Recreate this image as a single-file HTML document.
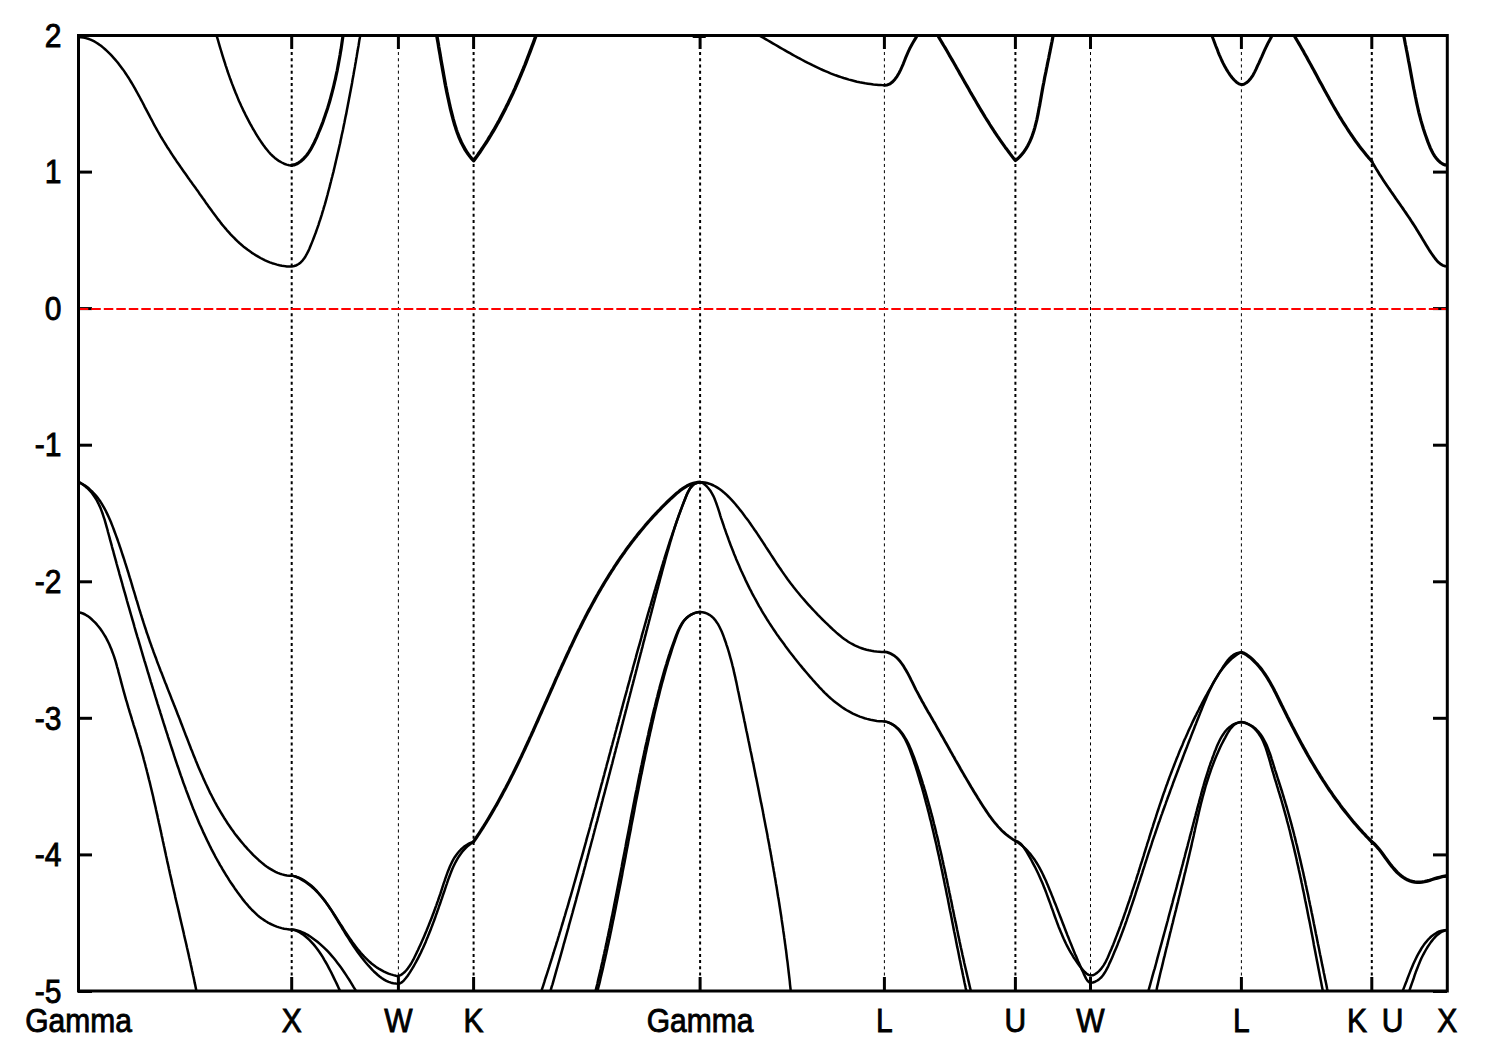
<!DOCTYPE html>
<html><head><meta charset="utf-8"><style>
html,body{margin:0;padding:0;background:#fff;}
svg{display:block;}
text{font-family:"Liberation Sans",sans-serif;font-size:30px;fill:#000;stroke:#000;stroke-width:0.8px;}
</style></head><body>
<svg width="1500" height="1050" viewBox="0 0 1500 1050">
<rect width="1500" height="1050" fill="#fff"/>
<defs><clipPath id="c"><rect x="78.5" y="35.5" width="1368.8" height="955.5"/></clipPath></defs>
<line x1="291.7" y1="52" x2="291.7" y2="977" stroke="#000" stroke-width="2.0" stroke-dasharray="3 3.22"/>
<line x1="398.4" y1="52" x2="398.4" y2="977" stroke="#000" stroke-width="1.0" stroke-dasharray="3 3.22"/>
<line x1="473.6" y1="52" x2="473.6" y2="977" stroke="#000" stroke-width="2.0" stroke-dasharray="3 3.22"/>
<line x1="700.1" y1="52" x2="700.1" y2="977" stroke="#000" stroke-width="2.0" stroke-dasharray="3 3.22"/>
<line x1="884.4" y1="52" x2="884.4" y2="977" stroke="#000" stroke-width="1.0" stroke-dasharray="3 3.22"/>
<line x1="1015.4" y1="52" x2="1015.4" y2="977" stroke="#000" stroke-width="2.0" stroke-dasharray="3 3.22"/>
<line x1="1090.5" y1="52" x2="1090.5" y2="977" stroke="#000" stroke-width="1.0" stroke-dasharray="3 3.22"/>
<line x1="1241.4" y1="52" x2="1241.4" y2="977" stroke="#000" stroke-width="1.0" stroke-dasharray="3 3.22"/>
<line x1="1371.8" y1="52" x2="1371.8" y2="977" stroke="#000" stroke-width="2.0" stroke-dasharray="3 3.22"/>
<g clip-path="url(#c)" fill="none" stroke="#000" stroke-width="2.50" stroke-linejoin="round" stroke-linecap="round">
<path d="M78.5,37.2 81.0,37.3 83.4,37.6 85.8,38.1 88.2,38.8 90.5,39.6 92.7,40.6 94.8,41.7 96.9,43.0 99.0,44.4 101.0,45.8 102.9,47.4 104.8,49.0 106.6,50.7 108.4,52.4 110.2,54.1 111.9,55.9 113.6,57.8 115.2,59.6 116.8,61.5 118.4,63.4 119.9,65.4 121.4,67.4 122.9,69.4 124.3,71.4 125.7,73.5 127.1,75.6 128.5,77.7 129.8,79.8 131.1,82.0 132.4,84.2 133.7,86.4 135.0,88.6 136.2,90.8 137.4,93.0 138.7,95.3 139.9,97.5 141.1,99.8 142.3,102.0 143.5,104.3 144.6,106.6 145.8,108.9 147.0,111.1 148.2,113.4 149.4,115.7 150.6,118.0 151.8,120.2 153.0,122.5 154.2,124.8 155.4,127.0 156.6,129.2 157.9,131.5 159.2,133.7 160.4,135.9 161.7,138.0 163.0,140.2 164.4,142.4 165.7,144.5 167.0,146.7 168.4,148.8 169.8,150.9 171.1,153.0 172.5,155.1 173.9,157.2 175.3,159.3 176.7,161.4 178.2,163.5 179.6,165.5 181.0,167.6 182.5,169.7 183.9,171.7 185.4,173.8 186.8,175.8 188.3,177.9 189.7,179.9 191.2,181.9 192.6,184.0 194.1,186.0 195.6,188.1 197.0,190.1 198.5,192.1 199.9,194.2 201.4,196.2 202.8,198.3 204.3,200.3 205.7,202.4 207.2,204.4 208.6,206.5 210.1,208.5 211.6,210.6 213.0,212.6 214.5,214.6 216.0,216.6 217.5,218.6 219.1,220.6 220.6,222.6 222.2,224.6 223.8,226.5 225.4,228.4 227.0,230.3 228.7,232.2 230.4,234.1 232.1,235.9 233.9,237.7 235.7,239.5 237.6,241.3 239.4,243.0 241.4,244.7 243.3,246.4 245.4,248.0 247.4,249.6 249.5,251.1 251.6,252.6 253.8,254.0 256.0,255.4 258.2,256.7 260.5,258.0 262.8,259.2 265.1,260.3 267.4,261.3 269.8,262.3 272.2,263.2 274.6,263.9 277.0,264.6 279.4,265.2 281.9,265.7 284.3,266.1 286.8,266.4 289.2,266.5 291.7,266.6L291.7,266.4 294.2,266.0 296.6,265.2 298.7,264.0 300.7,262.4 302.5,260.6 304.1,258.5 305.6,256.2 307.0,253.7 308.3,251.2 309.5,248.5 310.6,245.8 311.7,243.1 312.8,240.4 313.8,237.8 314.8,235.1 315.8,232.5 316.7,229.9 317.6,227.4 318.5,224.8 319.3,222.2 320.2,219.7 321.0,217.2 321.8,214.6 322.5,212.1 323.3,209.6 324.0,207.1 324.8,204.6 325.5,202.1 326.2,199.6 326.9,197.0 327.6,194.5 328.2,192.0 328.9,189.5 329.6,186.9 330.2,184.4 330.9,181.8 331.5,179.3 332.2,176.7 332.8,174.2 333.5,171.6 334.1,169.0 334.7,166.5 335.3,163.9 335.9,161.3 336.5,158.7 337.1,156.1 337.7,153.5 338.3,151.0 338.9,148.4 339.5,145.8 340.1,143.2 340.6,140.5 341.2,137.9 341.7,135.3 342.3,132.7 342.9,130.1 343.4,127.5 343.9,124.9 344.5,122.2 345.0,119.6 345.5,117.0 346.1,114.4 346.6,111.7 347.1,109.1 347.6,106.5 348.1,103.8 348.6,101.2 349.1,98.6 349.6,95.9 350.1,93.3 350.6,90.7 351.1,88.0 351.6,85.4 352.1,82.7 352.5,80.1 353.0,77.5 353.5,74.8 353.9,72.2 354.4,69.6 354.9,66.9 355.3,64.3 355.8,61.7 356.2,59.0 356.7,56.4 357.1,53.8 357.6,51.1 358.0,48.5 358.5,45.9 358.9,43.3 359.3,40.6 359.8,38.0 360.2,35.4 360.7,32.8 361.1,30.2 361.5,27.6 361.9,25.0"/>
<path d="M213.8,25.6 214.6,28.2 215.3,30.9 216.1,33.6 216.8,36.3 217.6,38.9 218.4,41.6 219.1,44.2 219.9,46.9 220.7,49.5 221.5,52.2 222.3,54.8 223.1,57.4 223.9,60.0 224.8,62.7 225.6,65.3 226.5,67.9 227.3,70.5 228.2,73.1 229.1,75.6 230.0,78.2 231.0,80.8 231.9,83.4 232.9,85.9 233.9,88.5 234.9,91.0 235.9,93.6 237.0,96.1 238.0,98.6 239.1,101.2 240.3,103.7 241.4,106.2 242.6,108.7 243.7,111.2 245.0,113.7 246.2,116.2 247.5,118.6 248.8,121.1 250.1,123.6 251.5,126.0 252.8,128.5 254.3,130.9 255.7,133.3 257.2,135.8 258.7,138.2 260.3,140.6 261.9,143.0 263.5,145.3 265.2,147.6 267.0,149.8 268.8,152.0 270.7,154.1 272.7,156.0 274.8,157.9 277.0,159.6 279.3,161.2 281.7,162.5 284.1,163.7 286.6,164.6 289.2,165.2 291.7,165.4"/>
<path stroke-width="3.20" d="M291.7,165.2 294.0,164.9 296.4,164.0 298.6,162.8 300.8,161.2 303.0,159.3 305.0,157.2 306.9,155.0 308.6,152.6 310.2,150.2 311.6,147.7 313.0,145.1 314.3,142.5 315.5,139.9 316.7,137.3 317.8,134.6 318.9,132.0 320.0,129.4 321.1,126.7 322.1,124.1 323.1,121.5 324.0,118.8 324.9,116.2 325.8,113.6 326.7,110.9 327.6,108.3 328.4,105.6 329.2,103.0 330.0,100.3 330.7,97.7 331.4,95.0 332.1,92.4 332.8,89.7 333.5,87.0 334.1,84.4 334.7,81.7 335.4,79.0 335.9,76.4 336.5,73.7 337.1,71.0 337.6,68.3 338.1,65.6 338.6,62.9 339.1,60.2 339.6,57.5 340.1,54.8 340.5,52.1 341.0,49.4 341.4,46.7 341.8,44.0 342.2,41.2 342.6,38.5 343.0,35.8 343.4,33.0 343.8,30.3 344.2,27.5 344.6,24.8"/>
<path stroke-width="3.50" d="M434.7,24.7 435.2,27.4 435.8,30.2 436.3,32.9 436.8,35.7 437.3,38.5 437.8,41.2 438.3,44.0 438.7,46.8 439.2,49.6 439.7,52.4 440.2,55.1 440.6,57.9 441.1,60.7 441.6,63.5 442.1,66.3 442.6,69.1 443.1,71.9 443.6,74.7 444.1,77.5 444.6,80.3 445.1,83.1 445.6,85.8 446.2,88.6 446.7,91.4 447.3,94.2 447.9,97.0 448.5,99.7 449.1,102.5 449.7,105.2 450.3,108.0 451.0,110.7 451.7,113.5 452.4,116.2 453.1,118.9 453.9,121.7 454.6,124.4 455.5,127.0 456.3,129.7 457.2,132.3 458.2,134.9 459.2,137.5 460.3,140.0 461.4,142.5 462.7,145.0 464.0,147.4 465.3,149.8 466.8,152.1 468.3,154.3 470.0,156.5 471.7,158.6 473.6,160.7L473.6,160.7 475.3,158.4 476.9,156.2 478.5,153.9 480.2,151.6 481.7,149.3 483.3,146.9 484.8,144.6 486.4,142.2 487.9,139.9 489.3,137.5 490.8,135.1 492.2,132.7 493.7,130.3 495.1,127.9 496.5,125.4 497.8,123.0 499.2,120.6 500.5,118.1 501.8,115.6 503.1,113.1 504.4,110.6 505.7,108.1 506.9,105.6 508.2,103.1 509.4,100.6 510.6,98.1 511.8,95.5 513.0,93.0 514.1,90.4 515.3,87.9 516.4,85.3 517.5,82.7 518.6,80.2 519.7,77.6 520.8,75.0 521.9,72.4 523.0,69.8 524.0,67.2 525.1,64.6 526.1,62.0 527.1,59.3 528.1,56.7 529.1,54.1 530.1,51.5 531.1,48.8 532.1,46.2 533.1,43.6 534.1,40.9 535.0,38.3 536.0,35.7 536.9,33.0 537.8,30.4 538.8,27.8 539.7,25.1"/>
<path stroke-width="2.00" d="M693.5,37.0 695.1,37.0 696.8,37.0 698.4,37.0 700.1,37.0 701.7,37.0 703.4,37.0 705.0,37.0"/>
<path d="M751.3,30.8 753.7,32.2 756.0,33.5 758.4,34.9 760.8,36.3 763.2,37.7 765.6,39.1 768.0,40.5 770.4,41.9 772.8,43.3 775.3,44.8 777.7,46.2 780.1,47.6 782.6,49.0 785.0,50.4 787.5,51.8 790.0,53.2 792.4,54.6 794.9,56.0 797.4,57.4 799.9,58.7 802.4,60.0 804.9,61.4 807.4,62.7 810.0,63.9 812.5,65.2 815.0,66.4 817.6,67.6 820.2,68.8 822.7,70.0 825.3,71.1 827.9,72.2 830.5,73.3 833.1,74.3 835.7,75.3 838.3,76.2 841.0,77.1 843.6,78.0 846.3,78.8 849.0,79.6 851.6,80.3 854.3,81.0 857.0,81.7 859.7,82.3 862.4,82.8 865.2,83.3 867.9,83.7 870.6,84.1 873.4,84.5 876.1,84.7 878.9,84.9 881.6,85.1 884.4,85.2"/>
<path stroke-width="3.00" d="M884.4,85.2 887.3,84.9 890.1,83.8 892.7,81.8 895.0,79.2 897.1,76.3 898.9,73.2 900.5,70.1 901.9,67.0 903.3,63.8 904.5,60.7 905.7,57.6 907.0,54.6 908.3,51.7 909.6,48.8 911.1,46.0 912.6,43.2 914.3,40.4 916.0,37.6 917.8,34.8 919.6,32.1 921.4,29.3 923.1,26.6"/>
<path stroke-width="3.20" d="M932.2,26.6 933.6,29.0 935.1,31.3 936.6,33.7 938.0,36.0 939.5,38.4 940.9,40.8 942.3,43.1 943.7,45.5 945.2,47.9 946.6,50.3 948.0,52.7 949.3,55.1 950.7,57.5 952.1,59.9 953.5,62.3 954.9,64.7 956.2,67.1 957.6,69.5 959.0,71.9 960.3,74.4 961.7,76.8 963.1,79.2 964.4,81.6 965.8,84.0 967.2,86.4 968.6,88.8 969.9,91.2 971.3,93.6 972.7,96.0 974.1,98.4 975.5,100.8 976.9,103.2 978.3,105.6 979.7,108.0 981.1,110.4 982.5,112.7 984.0,115.1 985.4,117.5 986.9,119.8 988.4,122.2 989.8,124.5 991.3,126.8 992.8,129.2 994.3,131.5 995.9,133.8 997.4,136.1 999.0,138.4 1000.5,140.6 1002.1,142.9 1003.7,145.2 1005.3,147.4 1007.0,149.6 1008.6,151.8 1010.3,154.1 1012.0,156.3 1013.7,158.4 1015.4,160.6L1015.4,160.6 1017.6,158.8 1019.6,156.9 1021.4,154.9 1023.2,152.8 1024.7,150.6 1026.2,148.4 1027.6,146.0 1028.8,143.6 1030.0,141.2 1031.1,138.6 1032.1,136.1 1033.0,133.4 1033.9,130.8 1034.7,128.1 1035.4,125.4 1036.1,122.6 1036.8,119.8 1037.4,117.0 1038.0,114.2 1038.5,111.3 1039.0,108.5 1039.6,105.6 1040.1,102.8 1040.6,99.9 1041.1,97.1 1041.6,94.2 1042.1,91.4 1042.6,88.6 1043.1,85.8 1043.7,83.0 1044.2,80.2 1044.7,77.4 1045.3,74.7 1045.9,71.9 1046.4,69.1 1047.0,66.4 1047.5,63.6 1048.1,60.9 1048.7,58.1 1049.2,55.4 1049.8,52.7 1050.3,49.9 1050.9,47.2 1051.4,44.4 1052.0,41.6 1052.5,38.9 1053.0,36.1 1053.5,33.3 1054.1,30.6 1054.6,27.8 1055.0,25.0"/>
<path stroke-width="3.00" d="M1207.2,25.0 1208.5,27.9 1209.9,30.8 1211.1,33.8 1212.3,36.7 1213.5,39.7 1214.6,42.7 1215.7,45.7 1216.9,48.6 1218.0,51.6 1219.2,54.6 1220.5,57.5 1221.8,60.5 1223.2,63.4 1224.7,66.3 1226.3,69.1 1228.1,72.0 1230.0,74.8 1232.0,77.5 1234.2,80.0 1236.5,82.2 1238.9,83.8 1241.4,84.7L1241.4,84.7 1243.9,84.2 1246.4,82.8 1248.7,80.8 1250.9,78.2 1252.9,75.3 1254.6,72.1 1256.2,68.9 1257.6,65.7 1259.1,62.6 1260.4,59.6 1261.8,56.6 1263.1,53.6 1264.4,50.7 1265.7,47.8 1267.1,45.0 1268.5,42.2 1270.0,39.5 1271.5,36.8 1273.2,34.1 1275.0,31.4 1276.9,28.8 1278.9,26.2"/>
<path stroke-width="3.20" d="M1288.7,26.8 1290.2,29.2 1291.6,31.5 1293.1,33.9 1294.5,36.2 1296.0,38.6 1297.4,41.0 1298.8,43.4 1300.2,45.8 1301.6,48.2 1303.0,50.6 1304.3,53.1 1305.7,55.5 1307.1,57.9 1308.4,60.4 1309.7,62.8 1311.1,65.2 1312.4,67.7 1313.7,70.1 1315.1,72.6 1316.4,75.0 1317.7,77.5 1319.0,79.9 1320.3,82.4 1321.7,84.8 1323.0,87.3 1324.3,89.7 1325.7,92.2 1327.0,94.6 1328.4,97.0 1329.7,99.5 1331.1,101.9 1332.4,104.3 1333.8,106.7 1335.2,109.1 1336.6,111.5 1338.0,113.9 1339.4,116.3 1340.9,118.7 1342.3,121.0 1343.8,123.4 1345.3,125.7 1346.8,128.0 1348.3,130.4 1349.8,132.7 1351.4,135.0 1352.9,137.2 1354.5,139.5 1356.1,141.8 1357.8,144.0 1359.4,146.2 1361.1,148.4 1362.8,150.6 1364.6,152.8 1366.3,154.9 1368.1,157.1 1370.0,159.2 1371.8,161.3"/>
<path stroke-width="2.80" d="M1371.8,161.3 1373.0,163.5 1374.3,165.7 1375.6,167.9 1376.9,170.1 1378.3,172.3 1379.6,174.4 1381.0,176.6 1382.4,178.7 1383.8,180.9 1385.2,183.0 1386.7,185.2 1388.1,187.3 1389.6,189.4 1391.0,191.5 1392.5,193.6 1394.0,195.8 1395.4,197.9 1396.9,200.0 1398.4,202.1 1399.9,204.2 1401.3,206.3 1402.8,208.4 1404.2,210.5 1405.7,212.6 1407.1,214.7 1408.5,216.8 1410.0,218.9 1411.3,221.0 1412.7,223.1 1414.1,225.2 1415.4,227.3 1416.7,229.4 1418.0,231.5 1419.3,233.7 1420.6,235.8 1421.9,237.9 1423.1,240.1 1424.5,242.3 1425.8,244.5 1427.2,246.8 1428.6,249.1 1430.1,251.4 1431.7,253.7 1433.4,256.1 1435.1,258.5 1436.9,260.7 1438.9,262.7 1440.9,264.3 1443.0,265.5 1445.1,266.2 1447.3,266.4"/>
<path stroke-width="3.20" d="M1401.7,25.2 1402.2,28.0 1402.8,30.7 1403.3,33.4 1403.8,36.2 1404.4,38.9 1404.9,41.7 1405.4,44.5 1406.0,47.2 1406.5,50.0 1407.1,52.8 1407.6,55.6 1408.1,58.3 1408.6,61.1 1409.2,63.9 1409.7,66.6 1410.2,69.4 1410.7,72.1 1411.2,74.9 1411.7,77.6 1412.2,80.3 1412.7,83.0 1413.2,85.7 1413.7,88.4 1414.3,91.0 1414.8,93.7 1415.3,96.3 1415.9,99.0 1416.4,101.7 1417.0,104.3 1417.6,107.0 1418.2,109.7 1418.8,112.3 1419.5,115.0 1420.2,117.7 1420.9,120.4 1421.7,123.1 1422.5,125.8 1423.3,128.5 1424.2,131.3 1425.1,134.0 1426.1,136.8 1427.1,139.6 1428.1,142.4 1429.3,145.3 1430.4,148.1 1431.7,150.8 1433.1,153.5 1434.7,156.1 1436.5,158.5 1438.4,160.6 1440.5,162.5 1442.7,164.0 1445.0,164.9 1447.3,165.2"/>
<path d="M78.5,482.1 80.7,483.0 82.9,484.3 85.0,485.6 87.1,487.1 89.0,488.6 90.8,490.3 92.6,492.0 94.3,493.8 95.9,495.6 97.5,497.6 98.9,499.5 100.4,501.6 101.7,503.7 103.0,505.9 104.3,508.1 105.5,510.3 106.6,512.6 107.7,514.9 108.8,517.3 109.8,519.6 110.9,522.0 111.8,524.4 112.8,526.9 113.7,529.3 114.6,531.7 115.5,534.1 116.4,536.6 117.3,539.0 118.1,541.4 119.0,543.9 119.8,546.3 120.6,548.7 121.4,551.1 122.2,553.6 123.0,556.0 123.8,558.4 124.6,560.8 125.3,563.2 126.1,565.6 126.9,568.1 127.6,570.5 128.4,572.9 129.1,575.3 129.8,577.7 130.6,580.1 131.3,582.5 132.0,584.9 132.7,587.3 133.4,589.7 134.2,592.1 134.9,594.5 135.6,596.9 136.3,599.3 137.1,601.7 137.8,604.1 138.5,606.5 139.2,608.9 140.0,611.3 140.7,613.7 141.5,616.1 142.2,618.5 143.0,620.8 143.7,623.2 144.5,625.6 145.3,628.0 146.1,630.4 146.8,632.8 147.7,635.1 148.5,637.5 149.3,639.9 150.1,642.3 151.0,644.6 151.8,647.0 152.7,649.4 153.5,651.7 154.4,654.1 155.3,656.5 156.2,658.8 157.0,661.2 157.9,663.6 158.8,665.9 159.7,668.3 160.6,670.7 161.6,673.0 162.5,675.4 163.4,677.7 164.3,680.1 165.2,682.5 166.2,684.8 167.1,687.2 168.0,689.6 168.9,691.9 169.9,694.3 170.8,696.6 171.7,699.0 172.7,701.4 173.6,703.7 174.5,706.1 175.5,708.5 176.4,710.8 177.3,713.2 178.2,715.6 179.2,717.9 180.1,720.3 181.0,722.7 181.9,725.0 182.8,727.4 183.7,729.8 184.6,732.1 185.5,734.5 186.5,736.9 187.4,739.2 188.3,741.6 189.2,744.0 190.1,746.3 191.0,748.7 192.0,751.0 192.9,753.4 193.8,755.7 194.8,758.1 195.7,760.4 196.7,762.7 197.6,765.1 198.6,767.4 199.6,769.7 200.6,772.0 201.6,774.3 202.6,776.6 203.6,778.9 204.7,781.2 205.7,783.5 206.8,785.8 207.9,788.1 208.9,790.3 210.0,792.6 211.2,794.8 212.3,797.0 213.5,799.3 214.6,801.5 215.8,803.7 217.0,805.9 218.3,808.1 219.5,810.2 220.8,812.4 222.1,814.5 223.4,816.7 224.7,818.8 226.1,820.9 227.4,823.0 228.8,825.1 230.3,827.2 231.7,829.3 233.2,831.3 234.7,833.4 236.2,835.4 237.8,837.4 239.4,839.4 241.0,841.4 242.6,843.3 244.3,845.3 246.0,847.2 247.7,849.1 249.5,851.0 251.3,852.9 253.1,854.8 255.0,856.6 256.9,858.4 258.8,860.2 260.8,861.9 262.8,863.6 264.8,865.2 266.9,866.7 269.0,868.1 271.1,869.4 273.3,870.7 275.5,871.8 277.7,872.8 279.9,873.7 282.2,874.4 284.5,875.0 286.9,875.4 289.3,875.7 291.7,875.8L291.7,875.6 294.1,876.1 296.5,877.0 298.8,878.0 301.1,879.3 303.3,880.6 305.5,882.0 307.5,883.4 309.5,885.0 311.4,886.5 313.3,888.2 315.1,889.9 316.8,891.6 318.6,893.5 320.2,895.3 321.8,897.2 323.4,899.2 325.0,901.1 326.5,903.2 328.0,905.2 329.4,907.3 330.9,909.4 332.3,911.6 333.7,913.7 335.2,915.9 336.6,918.1 338.0,920.3 339.4,922.6 340.8,924.8 342.3,927.0 343.7,929.3 345.1,931.5 346.6,933.7 348.1,935.9 349.6,938.1 351.1,940.3 352.6,942.5 354.2,944.6 355.8,946.7 357.4,948.8 359.1,950.8 360.7,952.8 362.4,954.7 364.2,956.6 366.0,958.4 367.8,960.1 369.6,961.8 371.5,963.5 373.5,965.0 375.5,966.5 377.5,967.9 379.6,969.2 381.8,970.4 384.0,971.6 386.2,972.6 388.5,973.6 390.9,974.4 393.4,975.1 395.9,975.7 398.4,976.2L398.4,976.2 400.5,975.2 402.5,973.9 404.4,972.3 406.1,970.5 407.7,968.6 409.2,966.5 410.7,964.3 412.0,962.0 413.3,959.7 414.5,957.3 415.7,954.8 416.8,952.4 418.0,950.0 419.1,947.6 420.2,945.2 421.2,942.9 422.3,940.5 423.3,938.2 424.3,935.9 425.3,933.5 426.3,931.2 427.2,928.9 428.2,926.6 429.1,924.3 430.0,922.0 431.0,919.6 431.9,917.3 432.7,915.0 433.6,912.7 434.5,910.3 435.3,908.0 436.2,905.6 437.0,903.3 437.9,900.9 438.7,898.5 439.5,896.1 440.4,893.7 441.2,891.2 442.0,888.7 442.8,886.2 443.6,883.7 444.5,881.2 445.3,878.7 446.2,876.2 447.1,873.7 448.0,871.2 449.0,868.7 450.0,866.3 451.1,863.9 452.2,861.6 453.4,859.4 454.7,857.2 456.1,855.2 457.6,853.2 459.2,851.3 460.9,849.5 462.7,847.9 464.6,846.3 466.6,845.0 468.8,843.7 471.1,842.6 473.6,841.7"/>
<path d="M291.7,875.6 294.1,876.1 296.4,876.8 298.8,877.7 301.0,878.7 303.2,879.9 305.4,881.3 307.4,882.7 309.5,884.2 311.4,885.8 313.3,887.5 315.2,889.3 317.0,891.2 318.7,893.2 320.4,895.2 322.1,897.2 323.7,899.3 325.3,901.5 326.9,903.7 328.4,905.9 329.9,908.2 331.4,910.4 332.8,912.7 334.2,915.0 335.6,917.3 337.0,919.5 338.3,921.8 339.7,924.0 341.0,926.2 342.3,928.5 343.7,930.6 345.0,932.8 346.3,935.0 347.7,937.1 349.0,939.2 350.3,941.3 351.7,943.4 353.1,945.5 354.5,947.6 355.9,949.6 357.4,951.7 358.9,953.7 360.4,955.7 361.9,957.7 363.5,959.7 365.1,961.7 366.8,963.7 368.5,965.7 370.3,967.6 372.1,969.6 373.9,971.5 375.9,973.3 377.8,975.0 379.9,976.7 382.0,978.2 384.1,979.6 386.3,980.8 388.6,981.8 391.0,982.7 393.4,983.2 395.9,983.6 398.4,983.7L398.4,983.7 400.3,983.2 402.1,982.1 404.0,980.3 405.7,978.3 407.5,976.0 409.1,973.6 410.7,971.1 412.2,968.7 413.6,966.3 414.9,964.0 416.2,961.7 417.4,959.4 418.6,957.1 419.7,954.9 420.8,952.7 421.8,950.4 422.9,948.2 423.9,945.9 424.9,943.7 425.9,941.4 426.8,939.1 427.8,936.8 428.7,934.4 429.7,932.1 430.6,929.7 431.5,927.4 432.4,925.0 433.3,922.6 434.2,920.2 435.1,917.8 435.9,915.4 436.8,913.0 437.6,910.6 438.5,908.2 439.3,905.7 440.2,903.3 441.0,900.8 441.9,898.4 442.7,895.9 443.5,893.5 444.4,891.0 445.2,888.6 446.0,886.1 446.9,883.6 447.7,881.2 448.6,878.7 449.5,876.3 450.4,873.9 451.3,871.5 452.3,869.1 453.3,866.8 454.4,864.5 455.5,862.3 456.7,860.1 458.0,857.9 459.4,855.8 460.8,853.8 462.3,851.8 463.9,849.9 465.6,848.1 467.4,846.4 469.4,844.7 471.4,843.2 473.6,841.7"/>
<path stroke-width="3.30" d="M473.6,841.7 475.0,839.6 476.4,837.5 477.8,835.4 479.2,833.3 480.6,831.2 481.9,829.1 483.3,827.0 484.6,824.8 486.0,822.7 487.3,820.5 488.6,818.4 489.9,816.2 491.1,814.1 492.4,811.9 493.7,809.7 494.9,807.5 496.2,805.4 497.4,803.2 498.6,801.0 499.8,798.8 501.0,796.6 502.2,794.4 503.4,792.1 504.6,789.9 505.8,787.7 506.9,785.5 508.1,783.2 509.3,781.0 510.4,778.8 511.5,776.5 512.7,774.3 513.8,772.0 514.9,769.8 516.0,767.5 517.1,765.2 518.2,763.0 519.3,760.7 520.4,758.4 521.5,756.2 522.5,753.9 523.6,751.6 524.7,749.3 525.7,747.0 526.8,744.7 527.8,742.5 528.9,740.2 529.9,737.9 531.0,735.6 532.0,733.3 533.1,731.0 534.1,728.7 535.1,726.4 536.1,724.1 537.2,721.8 538.2,719.5 539.2,717.2 540.2,714.9 541.3,712.5 542.3,710.2 543.3,707.9 544.3,705.6 545.3,703.3 546.4,701.0 547.4,698.7 548.4,696.4 549.4,694.1 550.4,691.8 551.4,689.5 552.5,687.2 553.5,684.9 554.5,682.6 555.5,680.2 556.5,677.9 557.6,675.6 558.6,673.3 559.6,671.0 560.7,668.7 561.7,666.4 562.7,664.2 563.8,661.9 564.8,659.6 565.9,657.3 566.9,655.0 568.0,652.7 569.1,650.4 570.1,648.1 571.2,645.9 572.3,643.6 573.4,641.3 574.4,639.1 575.5,636.8 576.6,634.5 577.7,632.3 578.8,630.0 580.0,627.8 581.1,625.5 582.2,623.3 583.3,621.0 584.5,618.8 585.6,616.6 586.8,614.3 587.9,612.1 589.1,609.9 590.3,607.7 591.5,605.5 592.7,603.3 593.9,601.1 595.1,598.9 596.3,596.7 597.6,594.5 598.8,592.3 600.1,590.2 601.3,588.0 602.6,585.8 603.9,583.7 605.2,581.5 606.5,579.4 607.8,577.3 609.1,575.1 610.5,573.0 611.8,570.9 613.2,568.8 614.5,566.7 615.9,564.6 617.3,562.5 618.7,560.4 620.1,558.3 621.6,556.3 623.0,554.2 624.5,552.2 625.9,550.1 627.4,548.1 628.9,546.1 630.4,544.0 631.9,542.0 633.5,540.0 635.0,538.0 636.6,536.1 638.1,534.1 639.7,532.1 641.3,530.2 643.0,528.2 644.6,526.3 646.2,524.3 647.9,522.4 649.6,520.5 651.3,518.6 653.0,516.7 654.7,514.9 656.5,513.0 658.2,511.1 660.0,509.3 661.8,507.4 663.6,505.6 665.4,503.8 667.2,502.0 669.1,500.2 671.0,498.4 672.9,496.7 674.8,495.0 676.7,493.3 678.7,491.7 680.6,490.1 682.7,488.7 684.7,487.4 686.8,486.1 688.9,485.1 691.1,484.1 693.3,483.4 695.5,482.8 697.8,482.4 700.1,482.2"/>
<path d="M700.1,482.2 702.4,482.3 704.7,482.5 707.0,483.0 709.2,483.7 711.4,484.5 713.6,485.5 715.7,486.6 717.8,487.9 719.9,489.3 721.9,490.8 723.9,492.4 725.9,494.2 727.8,496.0 729.7,497.9 731.6,499.9 733.4,501.9 735.3,504.0 737.0,506.1 738.8,508.2 740.5,510.4 742.2,512.5 743.8,514.7 745.4,516.9 747.0,519.0 748.6,521.1 750.1,523.3 751.6,525.4 753.1,527.6 754.5,529.7 756.0,531.8 757.4,533.9 758.8,536.0 760.2,538.2 761.6,540.3 763.0,542.4 764.4,544.5 765.7,546.6 767.1,548.7 768.4,550.7 769.8,552.8 771.1,554.9 772.5,557.0 773.8,559.0 775.2,561.1 776.5,563.2 777.9,565.2 779.3,567.3 780.7,569.3 782.1,571.4 783.5,573.4 784.9,575.4 786.4,577.5 787.8,579.5 789.3,581.5 790.8,583.5 792.4,585.5 793.9,587.5 795.5,589.5 797.1,591.5 798.8,593.5 800.4,595.5 802.1,597.5 803.8,599.4 805.5,601.4 807.2,603.3 809.0,605.3 810.7,607.2 812.5,609.1 814.3,611.0 816.1,612.9 817.9,614.8 819.7,616.6 821.5,618.5 823.4,620.3 825.2,622.1 827.1,623.9 828.9,625.7 830.8,627.5 832.6,629.2 834.5,630.9 836.4,632.6 838.3,634.2 840.2,635.8 842.2,637.4 844.2,638.9 846.2,640.3 848.2,641.7 850.3,643.0 852.5,644.2 854.7,645.4 857.0,646.4 859.3,647.4 861.6,648.2 864.0,649.0 866.5,649.7 869.0,650.3 871.5,650.8 874.0,651.2 876.6,651.5 879.2,651.7 881.8,651.9 884.4,651.9"/>
<path stroke-width="2.80" d="M884.4,651.9 886.7,652.2 888.9,652.9 891.0,653.8 893.0,654.9 894.9,656.2 896.8,657.8 898.5,659.5 900.1,661.4 901.7,663.5 903.2,665.6 904.6,667.9 906.0,670.3 907.4,672.7 908.7,675.2 910.0,677.7 911.2,680.2 912.5,682.7 913.7,685.2 914.9,687.7 916.1,690.1 917.4,692.4 918.6,694.7 919.8,697.0 921.0,699.2 922.2,701.5 923.5,703.6 924.7,705.8 925.9,708.0 927.1,710.1 928.3,712.2 929.6,714.3 930.8,716.4 932.0,718.5 933.2,720.7 934.5,722.8 935.7,724.9 936.9,727.1 938.1,729.2 939.4,731.4 940.6,733.6 941.8,735.7 943.1,737.9 944.3,740.1 945.5,742.3 946.8,744.5 948.0,746.7 949.3,749.0 950.5,751.2 951.8,753.4 953.0,755.6 954.3,757.8 955.5,760.1 956.8,762.3 958.1,764.5 959.4,766.8 960.6,769.0 961.9,771.2 963.2,773.4 964.5,775.7 965.8,777.9 967.1,780.1 968.4,782.3 969.7,784.5 971.0,786.8 972.4,789.0 973.7,791.2 975.0,793.4 976.4,795.5 977.7,797.7 979.1,799.9 980.4,802.1 981.8,804.2 983.2,806.4 984.6,808.5 986.0,810.6 987.4,812.7 988.8,814.8 990.3,816.8 991.8,818.9 993.3,820.9 994.9,822.8 996.5,824.7 998.1,826.6 999.8,828.4 1001.5,830.2 1003.3,831.9 1005.2,833.6 1007.1,835.2 1009.0,836.7 1011.1,838.2 1013.2,839.6 1015.4,840.9"/>
<path d="M1015.4,840.8 1018.0,841.7 1020.1,843.2 1021.9,844.9 1023.4,846.9 1024.8,849.0 1026.2,851.2 1027.5,853.4 1028.8,855.6 1030.1,857.8 1031.3,860.0 1032.5,862.3 1033.7,864.6 1034.9,866.8 1036.1,869.2 1037.2,871.5 1038.3,873.8 1039.4,876.2 1040.4,878.5 1041.5,880.9 1042.5,883.3 1043.5,885.7 1044.4,888.1 1045.4,890.5 1046.3,892.9 1047.2,895.4 1048.1,897.8 1049.0,900.2 1049.9,902.6 1050.8,905.1 1051.6,907.5 1052.5,909.9 1053.4,912.4 1054.2,914.8 1055.1,917.2 1056.0,919.6 1056.9,922.1 1057.8,924.5 1058.7,926.9 1059.7,929.3 1060.7,931.7 1061.7,934.0 1062.7,936.4 1063.7,938.8 1064.8,941.1 1065.9,943.5 1067.1,945.8 1068.3,948.1 1069.5,950.4 1070.8,952.6 1072.2,954.9 1073.5,957.2 1075.0,959.4 1076.5,961.6 1078.0,963.8 1079.6,965.9 1081.3,968.1 1083.0,970.1 1084.8,972.0 1086.7,973.7 1088.6,974.9 1090.5,975.6L1090.5,975.6 1092.7,975.3 1094.9,974.3 1097.0,972.9 1099.0,971.1 1100.8,969.2 1102.4,967.1 1103.9,964.9 1105.2,962.7 1106.3,960.5 1107.4,958.2 1108.4,955.9 1109.4,953.6 1110.4,951.3 1111.4,949.0 1112.3,946.7 1113.3,944.4 1114.2,942.1 1115.1,939.7 1116.0,937.4 1116.9,935.1 1117.8,932.7 1118.7,930.4 1119.6,928.0 1120.5,925.6 1121.3,923.3 1122.2,920.9 1123.1,918.5 1123.9,916.1 1124.7,913.8 1125.6,911.4 1126.4,909.0 1127.2,906.6 1128.0,904.2 1128.9,901.8 1129.7,899.4 1130.5,897.0 1131.3,894.6 1132.0,892.2 1132.8,889.7 1133.6,887.3 1134.4,884.9 1135.2,882.5 1136.0,880.1 1136.7,877.7 1137.5,875.2 1138.3,872.8 1139.0,870.4 1139.8,868.0 1140.5,865.5 1141.3,863.1 1142.1,860.7 1142.8,858.3 1143.6,855.8 1144.3,853.4 1145.1,851.0 1145.8,848.6 1146.6,846.1 1147.3,843.7 1148.1,841.3 1148.9,838.9 1149.6,836.4 1150.4,834.0 1151.1,831.6 1151.9,829.2 1152.7,826.8 1153.4,824.4 1154.2,822.0 1155.0,819.6 1155.8,817.2 1156.5,814.8 1157.3,812.4 1158.1,810.0 1158.9,807.6 1159.7,805.2 1160.5,802.9 1161.3,800.5 1162.1,798.1 1162.9,795.7 1163.7,793.4 1164.6,791.0 1165.4,788.7 1166.2,786.3 1167.1,784.0 1167.9,781.6 1168.8,779.3 1169.6,776.9 1170.5,774.6 1171.4,772.2 1172.3,769.9 1173.2,767.6 1174.1,765.3 1175.0,762.9 1175.9,760.6 1176.8,758.3 1177.8,756.0 1178.7,753.6 1179.6,751.3 1180.6,749.0 1181.6,746.7 1182.6,744.4 1183.5,742.1 1184.5,739.8 1185.6,737.5 1186.6,735.2 1187.6,732.9 1188.6,730.6 1189.7,728.3 1190.8,726.0 1191.8,723.7 1192.9,721.4 1194.0,719.1 1195.1,716.9 1196.3,714.6 1197.4,712.3 1198.6,710.0 1199.7,707.7 1200.9,705.5 1202.1,703.2 1203.3,700.9 1204.5,698.6 1205.7,696.3 1207.0,694.1 1208.2,691.8 1209.5,689.5 1210.8,687.3 1212.1,685.0 1213.4,682.7 1214.8,680.4 1216.1,678.2 1217.5,675.9 1218.8,673.6 1220.2,671.4 1221.7,669.1 1223.1,666.8 1224.6,664.6 1226.1,662.5 1227.6,660.4 1229.3,658.5 1231.0,656.8 1232.8,655.4 1234.8,654.1 1236.8,653.2 1239.0,652.6 1241.4,652.4"/>
<path stroke-width="3.30" d="M1241.4,652.4 1243.5,653.1 1245.7,654.2 1247.7,655.6 1249.7,657.1 1251.7,658.8 1253.5,660.5 1255.3,662.3 1257.1,664.1 1258.7,666.0 1260.3,667.9 1261.9,669.9 1263.3,671.9 1264.8,674.0 1266.2,676.1 1267.5,678.2 1268.8,680.3 1270.1,682.5 1271.3,684.7 1272.6,687.0 1273.8,689.2 1274.9,691.5 1276.1,693.8 1277.2,696.1 1278.4,698.4 1279.5,700.7 1280.6,703.0 1281.7,705.3 1282.9,707.6 1284.0,709.9 1285.1,712.1 1286.3,714.4 1287.4,716.7 1288.6,719.0 1289.7,721.3 1290.9,723.5 1292.0,725.8 1293.2,728.0 1294.4,730.3 1295.5,732.5 1296.7,734.8 1297.9,737.0 1299.1,739.3 1300.3,741.5 1301.5,743.7 1302.7,745.9 1303.9,748.2 1305.2,750.4 1306.4,752.6 1307.6,754.8 1308.9,757.0 1310.1,759.1 1311.4,761.3 1312.7,763.5 1314.0,765.6 1315.3,767.8 1316.6,770.0 1317.9,772.1 1319.2,774.2 1320.5,776.4 1321.9,778.5 1323.2,780.6 1324.6,782.7 1326.0,784.8 1327.3,786.9 1328.7,789.0 1330.1,791.1 1331.6,793.1 1333.0,795.2 1334.4,797.2 1335.9,799.3 1337.4,801.3 1338.9,803.3 1340.4,805.4 1341.9,807.4 1343.4,809.4 1345.0,811.4 1346.5,813.3 1348.1,815.3 1349.7,817.3 1351.3,819.2 1352.9,821.2 1354.5,823.1 1356.2,825.0 1357.8,826.9 1359.5,828.8 1361.2,830.7 1362.9,832.6 1364.7,834.4 1366.4,836.3 1368.2,838.1 1370.0,840.0 1371.8,841.8"/>
<path stroke-width="3.40" d="M1371.8,841.8 1373.6,843.3 1375.3,845.0 1377.0,846.8 1378.7,848.8 1380.3,850.8 1382.0,853.0 1383.6,855.2 1385.2,857.4 1386.9,859.7 1388.5,861.9 1390.2,864.2 1391.9,866.4 1393.7,868.5 1395.5,870.5 1397.3,872.5 1399.3,874.3 1401.2,875.9 1403.3,877.4 1405.5,878.8 1407.7,879.9 1410.0,880.8 1412.3,881.5 1414.7,882.0 1417.1,882.2 1419.6,882.3 1422.0,882.0 1424.5,881.6 1427.1,881.0 1429.6,880.3 1432.1,879.5 1434.7,878.7 1437.2,878.0 1439.7,877.3 1442.2,876.7 1444.8,876.2 1447.3,875.8"/>
<path d="M1015.4,840.8 1017.6,842.2 1019.6,843.7 1021.6,845.2 1023.5,846.9 1025.4,848.6 1027.1,850.4 1028.8,852.3 1030.5,854.2 1032.0,856.2 1033.5,858.2 1035.0,860.3 1036.4,862.5 1037.7,864.7 1039.0,866.9 1040.2,869.1 1041.4,871.4 1042.6,873.8 1043.7,876.1 1044.8,878.5 1045.9,880.8 1046.9,883.2 1047.9,885.6 1048.9,888.0 1049.9,890.4 1050.9,892.8 1051.8,895.1 1052.8,897.5 1053.7,899.9 1054.6,902.2 1055.6,904.6 1056.5,906.9 1057.4,909.2 1058.3,911.6 1059.2,913.9 1060.1,916.2 1061.0,918.5 1061.9,920.9 1062.8,923.2 1063.7,925.5 1064.6,927.9 1065.5,930.2 1066.4,932.5 1067.3,934.9 1068.3,937.2 1069.2,939.6 1070.1,941.9 1071.1,944.3 1072.1,946.7 1073.0,949.1 1074.0,951.5 1075.0,953.9 1076.1,956.3 1077.1,958.7 1078.1,961.2 1079.2,963.6 1080.3,966.1 1081.4,968.6 1082.6,971.1 1083.7,973.6 1084.9,976.1 1086.1,978.6 1087.4,980.7 1088.9,982.2 1090.5,982.8L1090.5,982.8 1092.8,982.5 1095.1,981.7 1097.4,980.5 1099.5,978.9 1101.4,977.2 1103.0,975.2 1104.5,973.1 1105.8,970.9 1107.0,968.6 1108.2,966.3 1109.2,963.9 1110.3,961.6 1111.4,959.2 1112.4,956.9 1113.4,954.5 1114.4,952.1 1115.4,949.7 1116.4,947.4 1117.4,945.0 1118.3,942.6 1119.3,940.2 1120.2,937.9 1121.1,935.5 1122.0,933.1 1122.9,930.7 1123.8,928.3 1124.7,925.9 1125.5,923.5 1126.4,921.1 1127.2,918.7 1128.0,916.3 1128.9,913.9 1129.7,911.5 1130.5,909.1 1131.3,906.7 1132.1,904.3 1132.9,901.9 1133.7,899.5 1134.5,897.1 1135.3,894.7 1136.0,892.3 1136.8,889.9 1137.6,887.5 1138.3,885.1 1139.1,882.7 1139.9,880.3 1140.6,877.9 1141.4,875.5 1142.2,873.1 1142.9,870.7 1143.7,868.3 1144.5,865.9 1145.2,863.5 1146.0,861.1 1146.8,858.7 1147.5,856.3 1148.3,853.9 1149.1,851.5 1149.9,849.2 1150.7,846.8 1151.5,844.4 1152.2,842.0 1153.0,839.6 1153.8,837.3 1154.7,834.9 1155.5,832.5 1156.3,830.1 1157.1,827.8 1157.9,825.4 1158.7,823.0 1159.6,820.7 1160.4,818.3 1161.2,815.9 1162.1,813.6 1162.9,811.2 1163.8,808.8 1164.6,806.5 1165.5,804.1 1166.3,801.7 1167.2,799.4 1168.0,797.0 1168.9,794.7 1169.8,792.3 1170.6,789.9 1171.5,787.6 1172.4,785.2 1173.2,782.8 1174.1,780.5 1175.0,778.1 1175.9,775.7 1176.8,773.4 1177.7,771.0 1178.6,768.6 1179.5,766.3 1180.4,763.9 1181.3,761.5 1182.2,759.2 1183.1,756.8 1184.0,754.4 1184.9,752.0 1185.8,749.7 1186.8,747.3 1187.7,744.9 1188.6,742.5 1189.5,740.2 1190.5,737.8 1191.4,735.4 1192.3,733.0 1193.3,730.6 1194.2,728.2 1195.1,725.8 1196.1,723.4 1197.0,721.0 1198.0,718.6 1198.9,716.2 1199.9,713.8 1200.8,711.4 1201.8,709.0 1202.7,706.6 1203.7,704.2 1204.7,701.8 1205.7,699.4 1206.7,697.0 1207.7,694.7 1208.8,692.3 1209.9,690.0 1211.0,687.7 1212.1,685.4 1213.3,683.1 1214.5,680.9 1215.8,678.7 1217.1,676.6 1218.4,674.4 1219.8,672.4 1221.3,670.3 1222.8,668.3 1224.3,666.4 1226.0,664.5 1227.7,662.7 1229.4,660.9 1231.2,659.1 1233.1,657.5 1235.1,655.9 1237.2,654.4 1239.3,653.2 1241.4,652.4"/>
<path d="M78.5,482.1 80.7,483.2 82.8,484.5 84.9,486.1 86.8,487.7 88.6,489.4 90.3,491.2 91.9,493.0 93.3,495.0 94.7,497.0 96.0,499.0 97.2,501.2 98.3,503.3 99.4,505.6 100.4,507.8 101.3,510.1 102.2,512.5 103.0,514.9 103.8,517.3 104.6,519.7 105.3,522.1 106.0,524.6 106.7,527.1 107.4,529.5 108.0,532.0 108.7,534.5 109.4,537.0 110.0,539.4 110.7,541.9 111.4,544.4 112.0,546.8 112.7,549.3 113.4,551.7 114.0,554.2 114.7,556.7 115.4,559.1 116.1,561.6 116.7,564.0 117.4,566.5 118.1,568.9 118.8,571.3 119.4,573.8 120.1,576.2 120.8,578.6 121.5,581.1 122.2,583.5 122.8,585.9 123.5,588.4 124.2,590.8 124.9,593.2 125.6,595.6 126.3,598.1 126.9,600.5 127.6,602.9 128.3,605.3 129.0,607.7 129.7,610.1 130.4,612.6 131.1,615.0 131.8,617.4 132.5,619.8 133.2,622.2 133.9,624.6 134.5,627.0 135.2,629.4 135.9,631.8 136.6,634.2 137.3,636.6 138.1,639.0 138.8,641.4 139.5,643.8 140.2,646.2 140.9,648.6 141.6,651.0 142.3,653.4 143.0,655.8 143.7,658.2 144.4,660.6 145.2,663.0 145.9,665.4 146.6,667.7 147.3,670.1 148.0,672.5 148.8,674.9 149.5,677.3 150.2,679.7 150.9,682.1 151.7,684.5 152.4,686.9 153.1,689.2 153.9,691.6 154.6,694.0 155.3,696.4 156.1,698.8 156.8,701.2 157.5,703.6 158.3,706.0 159.0,708.4 159.8,710.7 160.5,713.1 161.3,715.5 162.0,717.9 162.8,720.3 163.5,722.7 164.3,725.1 165.1,727.5 165.8,729.9 166.6,732.3 167.4,734.7 168.1,737.1 168.9,739.5 169.7,741.8 170.4,744.2 171.2,746.6 172.0,749.0 172.8,751.4 173.6,753.8 174.3,756.2 175.1,758.6 175.9,761.0 176.7,763.4 177.5,765.8 178.4,768.2 179.2,770.6 180.0,773.0 180.8,775.4 181.7,777.7 182.5,780.1 183.3,782.5 184.2,784.9 185.1,787.2 185.9,789.6 186.8,792.0 187.7,794.3 188.6,796.7 189.5,799.1 190.4,801.4 191.3,803.8 192.2,806.1 193.1,808.5 194.1,810.8 195.0,813.1 196.0,815.4 197.0,817.8 197.9,820.1 198.9,822.4 199.9,824.7 201.0,827.0 202.0,829.3 203.0,831.6 204.1,833.9 205.1,836.1 206.2,838.4 207.3,840.7 208.4,842.9 209.5,845.2 210.6,847.4 211.7,849.7 212.9,851.9 214.1,854.1 215.2,856.3 216.4,858.5 217.6,860.7 218.9,862.9 220.1,865.1 221.4,867.2 222.6,869.4 223.9,871.5 225.2,873.7 226.5,875.8 227.9,877.9 229.2,880.1 230.6,882.2 232.0,884.2 233.4,886.3 234.8,888.4 236.3,890.5 237.7,892.5 239.2,894.5 240.7,896.6 242.2,898.6 243.8,900.6 245.3,902.5 247.0,904.4 248.6,906.3 250.3,908.2 252.0,910.0 253.8,911.7 255.6,913.4 257.4,915.1 259.3,916.7 261.3,918.2 263.3,919.6 265.4,921.0 267.5,922.3 269.7,923.5 272.0,924.6 274.3,925.7 276.7,926.6 279.1,927.4 281.6,928.1 284.1,928.7 286.7,929.1 289.2,929.4 291.7,929.5L291.7,929.5 294.4,929.8 297.1,930.4 299.8,931.2 302.5,932.3 305.1,933.5 307.7,934.9 310.2,936.5 312.6,938.2 315.0,939.9 317.4,941.7 319.6,943.6 321.8,945.6 324.0,947.6 326.1,949.6 328.1,951.7 330.1,953.9 332.0,956.1 333.9,958.3 335.7,960.6 337.5,962.9 339.3,965.3 341.0,967.6 342.7,970.0 344.4,972.5 346.0,974.9 347.6,977.4 349.2,979.8 350.8,982.3 352.3,984.8 353.8,987.3 355.4,989.8 356.9,992.3 358.4,994.7 359.9,997.2 361.4,999.7"/>
<path d="M291.7,929.5 294.4,930.1 297.2,931.1 299.8,932.4 302.4,934.1 304.9,936.0 307.3,938.0 309.6,940.1 311.7,942.3 313.8,944.6 315.7,947.0 317.6,949.5 319.4,952.0 321.1,954.5 322.8,957.1 324.3,959.8 325.9,962.5 327.4,965.1 328.8,967.8 330.2,970.5 331.6,973.2 332.9,975.9 334.2,978.6 335.5,981.2 336.8,983.9 338.1,986.7 339.3,989.4 340.6,992.1 341.8,994.9 343.0,997.7 344.3,1000.5"/>
<path d="M78.5,612.2 80.7,612.7 83.0,613.5 85.1,614.5 87.3,615.8 89.4,617.3 91.4,619.0 93.3,620.8 95.2,622.7 97.0,624.7 98.7,626.7 100.3,628.8 101.8,630.9 103.2,633.1 104.6,635.3 105.9,637.5 107.1,639.8 108.3,642.2 109.4,644.5 110.4,646.9 111.4,649.3 112.3,651.7 113.2,654.2 114.1,656.7 114.9,659.2 115.7,661.7 116.4,664.2 117.1,666.8 117.9,669.3 118.5,671.9 119.2,674.5 119.9,677.0 120.6,679.6 121.2,682.2 121.9,684.7 122.6,687.3 123.3,689.8 124.0,692.4 124.7,694.9 125.4,697.4 126.1,699.9 126.9,702.4 127.6,704.9 128.3,707.4 129.1,709.9 129.8,712.4 130.6,714.9 131.4,717.4 132.1,719.8 132.9,722.3 133.6,724.8 134.4,727.3 135.2,729.7 135.9,732.2 136.7,734.7 137.4,737.1 138.2,739.6 138.9,742.1 139.6,744.6 140.4,747.0 141.1,749.5 141.8,752.0 142.5,754.5 143.2,757.0 143.8,759.5 144.5,762.0 145.2,764.5 145.8,767.0 146.5,769.5 147.1,772.0 147.8,774.6 148.4,777.1 149.0,779.6 149.7,782.1 150.3,784.7 150.9,787.2 151.5,789.7 152.1,792.3 152.7,794.8 153.3,797.3 153.8,799.9 154.4,802.4 155.0,805.0 155.6,807.5 156.1,810.0 156.7,812.6 157.3,815.1 157.8,817.7 158.4,820.2 158.9,822.8 159.5,825.3 160.1,827.9 160.6,830.4 161.2,833.0 161.7,835.6 162.3,838.1 162.8,840.7 163.4,843.2 163.9,845.8 164.5,848.3 165.0,850.9 165.6,853.4 166.1,856.0 166.7,858.5 167.2,861.1 167.8,863.6 168.4,866.2 168.9,868.7 169.5,871.3 170.0,873.8 170.6,876.3 171.2,878.9 171.8,881.4 172.3,884.0 172.9,886.5 173.5,889.0 174.1,891.6 174.7,894.1 175.2,896.6 175.8,899.2 176.4,901.7 177.0,904.3 177.6,906.8 178.2,909.3 178.8,911.9 179.4,914.4 179.9,916.9 180.5,919.4 181.1,922.0 181.7,924.5 182.3,927.0 182.9,929.6 183.5,932.1 184.0,934.6 184.6,937.2 185.2,939.7 185.8,942.2 186.4,944.8 186.9,947.3 187.5,949.8 188.1,952.4 188.7,954.9 189.2,957.5 189.8,960.0 190.4,962.5 190.9,965.1 191.5,967.6 192.0,970.2 192.6,972.7 193.1,975.3 193.7,977.8 194.2,980.3 194.7,982.9 195.3,985.4 195.8,988.0 196.3,990.6 196.8,993.1 197.4,995.7 197.9,998.2 198.4,1000.8"/>
<path d="M537.9,1001.4 538.7,998.9 539.6,996.5 540.4,994.1 541.2,991.6 542.0,989.2 542.8,986.8 543.6,984.3 544.4,981.9 545.1,979.4 545.9,977.0 546.7,974.6 547.5,972.1 548.3,969.7 549.1,967.2 549.8,964.8 550.6,962.3 551.4,959.9 552.2,957.4 552.9,955.0 553.7,952.5 554.4,950.1 555.2,947.6 556.0,945.2 556.7,942.7 557.5,940.3 558.2,937.8 559.0,935.3 559.7,932.9 560.5,930.4 561.2,928.0 561.9,925.5 562.7,923.0 563.4,920.6 564.1,918.1 564.9,915.6 565.6,913.2 566.3,910.7 567.1,908.2 567.8,905.8 568.5,903.3 569.2,900.8 569.9,898.4 570.7,895.9 571.4,893.4 572.1,891.0 572.8,888.5 573.5,886.0 574.2,883.5 574.9,881.1 575.6,878.6 576.3,876.1 577.0,873.6 577.7,871.2 578.4,868.7 579.1,866.2 579.8,863.7 580.5,861.2 581.2,858.8 581.9,856.3 582.6,853.8 583.3,851.3 584.0,848.8 584.7,846.4 585.4,843.9 586.1,841.4 586.7,838.9 587.4,836.4 588.1,834.0 588.8,831.5 589.5,829.0 590.2,826.5 590.8,824.0 591.5,821.5 592.2,819.0 592.9,816.6 593.5,814.1 594.2,811.6 594.9,809.1 595.6,806.6 596.2,804.1 596.9,801.7 597.6,799.2 598.3,796.7 598.9,794.2 599.6,791.7 600.3,789.2 600.9,786.7 601.6,784.2 602.3,781.8 602.9,779.3 603.6,776.8 604.3,774.3 604.9,771.8 605.6,769.3 606.3,766.8 606.9,764.3 607.6,761.9 608.3,759.4 608.9,756.9 609.6,754.4 610.3,751.9 610.9,749.4 611.6,746.9 612.3,744.5 612.9,742.0 613.6,739.5 614.3,737.0 614.9,734.5 615.6,732.0 616.3,729.5 616.9,727.1 617.6,724.6 618.3,722.1 618.9,719.6 619.6,717.1 620.3,714.6 620.9,712.1 621.6,709.7 622.3,707.2 622.9,704.7 623.6,702.2 624.3,699.7 624.9,697.3 625.6,694.8 626.3,692.3 627.0,689.8 627.6,687.3 628.3,684.9 629.0,682.4 629.7,679.9 630.3,677.4 631.0,674.9 631.7,672.5 632.4,670.0 633.0,667.5 633.7,665.0 634.4,662.6 635.1,660.1 635.8,657.6 636.4,655.1 637.1,652.7 637.8,650.2 638.5,647.7 639.2,645.3 639.9,642.8 640.6,640.3 641.3,637.9 641.9,635.4 642.6,632.9 643.3,630.5 644.0,628.0 644.7,625.5 645.4,623.1 646.1,620.6 646.8,618.1 647.5,615.7 648.2,613.2 648.9,610.8 649.6,608.3 650.4,605.8 651.1,603.4 651.8,600.9 652.5,598.5 653.2,596.0 653.9,593.6 654.6,591.1 655.4,588.7 656.1,586.2 656.8,583.8 657.5,581.3 658.3,578.9 659.0,576.4 659.7,574.0 660.5,571.5 661.2,569.1 661.9,566.6 662.7,564.2 663.4,561.7 664.2,559.3 664.9,556.9 665.7,554.4 666.5,552.0 667.3,549.5 668.0,547.1 668.8,544.6 669.6,542.1 670.4,539.7 671.3,537.2 672.1,534.8 672.9,532.3 673.8,529.8 674.6,527.4 675.5,524.9 676.3,522.4 677.2,519.9 678.1,517.4 679.0,514.9 680.0,512.4 680.9,509.9 681.8,507.4 682.8,504.9 683.8,502.4 684.8,499.8 685.8,497.3 686.8,494.8 687.9,492.4 689.1,490.1 690.4,487.9 691.9,486.1 693.6,484.5 695.6,483.3 697.7,482.5 700.1,482.2"/>
<path d="M547.5,1001.5 548.2,999.0 548.9,996.6 549.6,994.1 550.3,991.6 551.0,989.2 551.7,986.7 552.5,984.3 553.2,981.8 553.9,979.3 554.6,976.9 555.3,974.4 556.0,971.9 556.7,969.4 557.4,967.0 558.1,964.5 558.8,962.0 559.5,959.6 560.2,957.1 560.9,954.6 561.6,952.2 562.3,949.7 563.0,947.2 563.6,944.7 564.3,942.3 565.0,939.8 565.7,937.3 566.4,934.8 567.1,932.4 567.8,929.9 568.5,927.4 569.1,924.9 569.8,922.5 570.5,920.0 571.2,917.5 571.9,915.0 572.6,912.5 573.2,910.1 573.9,907.6 574.6,905.1 575.3,902.6 576.0,900.1 576.6,897.6 577.3,895.2 578.0,892.7 578.7,890.2 579.3,887.7 580.0,885.2 580.7,882.7 581.3,880.3 582.0,877.8 582.7,875.3 583.4,872.8 584.0,870.3 584.7,867.8 585.4,865.3 586.0,862.9 586.7,860.4 587.4,857.9 588.0,855.4 588.7,852.9 589.3,850.4 590.0,847.9 590.7,845.4 591.3,843.0 592.0,840.5 592.7,838.0 593.3,835.5 594.0,833.0 594.6,830.5 595.3,828.0 595.9,825.5 596.6,823.0 597.3,820.6 597.9,818.1 598.6,815.6 599.2,813.1 599.9,810.6 600.5,808.1 601.2,805.6 601.8,803.1 602.5,800.6 603.1,798.1 603.8,795.6 604.5,793.2 605.1,790.7 605.8,788.2 606.4,785.7 607.1,783.2 607.7,780.7 608.4,778.2 609.0,775.7 609.7,773.2 610.3,770.7 611.0,768.2 611.6,765.7 612.3,763.3 612.9,760.8 613.5,758.3 614.2,755.8 614.8,753.3 615.5,750.8 616.1,748.3 616.8,745.8 617.4,743.3 618.1,740.8 618.7,738.3 619.4,735.8 620.0,733.4 620.7,730.9 621.3,728.4 621.9,725.9 622.6,723.4 623.2,720.9 623.9,718.4 624.5,715.9 625.2,713.4 625.8,710.9 626.5,708.5 627.1,706.0 627.7,703.5 628.4,701.0 629.0,698.5 629.7,696.0 630.3,693.5 631.0,691.0 631.6,688.5 632.2,686.1 632.9,683.6 633.5,681.1 634.2,678.6 634.8,676.1 635.5,673.6 636.1,671.1 636.8,668.6 637.4,666.2 638.0,663.7 638.7,661.2 639.3,658.7 640.0,656.2 640.6,653.7 641.3,651.3 641.9,648.8 642.6,646.3 643.2,643.8 643.8,641.3 644.5,638.8 645.1,636.4 645.8,633.9 646.4,631.4 647.1,628.9 647.7,626.4 648.4,624.0 649.0,621.5 649.7,619.0 650.3,616.5 651.0,614.0 651.6,611.6 652.2,609.1 652.9,606.6 653.5,604.1 654.2,601.7 654.8,599.2 655.5,596.7 656.1,594.2 656.8,591.8 657.4,589.3 658.1,586.8 658.7,584.4 659.4,581.9 660.0,579.4 660.7,576.9 661.4,574.5 662.0,572.0 662.7,569.5 663.3,567.1 664.0,564.6 664.7,562.1 665.3,559.7 666.0,557.2 666.7,554.7 667.4,552.2 668.1,549.8 668.8,547.3 669.5,544.8 670.2,542.3 671.0,539.9 671.7,537.4 672.5,534.9 673.2,532.4 674.0,529.9 674.8,527.4 675.6,524.9 676.5,522.4 677.3,519.9 678.2,517.4 679.0,514.9 679.9,512.4 680.8,509.9 681.8,507.4 682.7,504.9 683.7,502.3 684.7,499.8 685.7,497.3 686.7,494.8 687.8,492.3 689.1,490.0 690.4,487.9 691.9,486.1 693.6,484.5 695.6,483.3 697.8,482.5 700.1,482.2"/>
<path d="M592.9,1001.6 593.6,999.1 594.2,996.6 594.8,994.1 595.4,991.5 596.0,989.0 596.6,986.5 597.3,984.0 597.8,981.5 598.4,978.9 599.0,976.4 599.6,973.9 600.2,971.3 600.8,968.8 601.3,966.3 601.9,963.7 602.5,961.2 603.0,958.7 603.6,956.1 604.2,953.6 604.7,951.0 605.3,948.5 605.8,946.0 606.4,943.4 606.9,940.9 607.4,938.3 608.0,935.8 608.5,933.2 609.0,930.7 609.6,928.1 610.1,925.6 610.6,923.0 611.1,920.5 611.6,917.9 612.2,915.4 612.7,912.8 613.2,910.3 613.7,907.7 614.2,905.1 614.7,902.6 615.2,900.0 615.7,897.5 616.2,894.9 616.7,892.4 617.2,889.8 617.7,887.2 618.2,884.7 618.7,882.1 619.2,879.5 619.7,877.0 620.2,874.4 620.7,871.9 621.2,869.3 621.7,866.7 622.1,864.2 622.6,861.6 623.1,859.1 623.6,856.5 624.1,853.9 624.6,851.4 625.1,848.8 625.6,846.2 626.0,843.7 626.5,841.1 627.0,838.6 627.5,836.0 628.0,833.4 628.5,830.9 629.0,828.3 629.5,825.8 630.0,823.2 630.5,820.6 630.9,818.1 631.4,815.5 631.9,813.0 632.4,810.4 632.9,807.9 633.4,805.3 633.9,802.7 634.4,800.2 634.9,797.6 635.4,795.1 635.9,792.5 636.5,790.0 637.0,787.4 637.5,784.9 638.0,782.3 638.5,779.8 639.0,777.3 639.5,774.7 640.1,772.2 640.6,769.6 641.1,767.1 641.7,764.5 642.2,762.0 642.7,759.5 643.3,756.9 643.8,754.4 644.3,751.9 644.9,749.3 645.4,746.8 646.0,744.3 646.6,741.7 647.1,739.2 647.7,736.7 648.3,734.2 648.8,731.6 649.4,729.1 650.0,726.6 650.6,724.1 651.2,721.6 651.7,719.1 652.3,716.5 652.9,714.0 653.5,711.5 654.1,709.0 654.8,706.5 655.4,704.0 656.0,701.5 656.6,699.0 657.3,696.5 657.9,694.0 658.5,691.5 659.2,689.0 659.8,686.6 660.5,684.1 661.2,681.6 661.9,679.1 662.6,676.6 663.3,674.1 664.0,671.6 664.7,669.1 665.5,666.6 666.3,664.1 667.0,661.6 667.8,659.1 668.6,656.5 669.5,654.0 670.3,651.5 671.2,649.0 672.1,646.4 673.0,643.9 673.9,641.3 674.8,638.8 675.8,636.2 676.8,633.7 677.9,631.1 679.0,628.7 680.2,626.3 681.5,624.0 683.0,621.8 684.6,619.8 686.3,618.0 688.3,616.4 690.4,614.9 692.7,613.8 695.1,612.9 697.6,612.2 700.1,611.9"/>
<path d="M594.9,1001.6 595.6,999.1 596.2,996.6 596.8,994.1 597.4,991.6 598.0,989.0 598.6,986.5 599.3,984.0 599.9,981.5 600.4,979.0 601.0,976.5 601.6,973.9 602.2,971.4 602.8,968.9 603.4,966.3 603.9,963.8 604.5,961.3 605.1,958.8 605.6,956.2 606.2,953.7 606.7,951.2 607.3,948.6 607.8,946.1 608.4,943.5 608.9,941.0 609.5,938.5 610.0,935.9 610.5,933.4 611.1,930.8 611.6,928.3 612.1,925.7 612.6,923.2 613.1,920.6 613.7,918.1 614.2,915.5 614.7,913.0 615.2,910.4 615.7,907.9 616.2,905.3 616.7,902.8 617.2,900.2 617.7,897.7 618.2,895.1 618.7,892.6 619.2,890.0 619.7,887.5 620.2,884.9 620.7,882.4 621.2,879.8 621.7,877.2 622.2,874.7 622.6,872.1 623.1,869.6 623.6,867.0 624.1,864.5 624.6,861.9 625.1,859.3 625.6,856.8 626.0,854.2 626.5,851.7 627.0,849.1 627.5,846.6 628.0,844.0 628.4,841.4 628.9,838.9 629.4,836.3 629.9,833.8 630.4,831.2 630.9,828.7 631.3,826.1 631.8,823.6 632.3,821.0 632.8,818.4 633.3,815.9 633.8,813.3 634.3,810.8 634.7,808.2 635.2,805.7 635.7,803.1 636.2,800.6 636.7,798.0 637.2,795.5 637.7,792.9 638.2,790.4 638.7,787.8 639.2,785.3 639.7,782.8 640.2,780.2 640.7,777.7 641.2,775.1 641.8,772.6 642.3,770.0 642.8,767.5 643.3,765.0 643.8,762.4 644.4,759.9 644.9,757.4 645.4,754.8 646.0,752.3 646.5,749.8 647.0,747.2 647.6,744.7 648.1,742.2 648.7,739.7 649.2,737.1 649.8,734.6 650.3,732.1 650.9,729.6 651.5,727.1 652.0,724.6 652.6,722.0 653.2,719.5 653.8,717.0 654.3,714.5 654.9,712.0 655.5,709.5 656.1,707.0 656.7,704.5 657.3,702.0 657.9,699.5 658.6,697.0 659.2,694.5 659.8,692.0 660.4,689.5 661.1,687.0 661.7,684.5 662.4,682.0 663.1,679.6 663.7,677.1 664.4,674.6 665.1,672.1 665.8,669.6 666.5,667.1 667.3,664.6 668.0,662.0 668.8,659.5 669.6,657.0 670.4,654.5 671.2,652.0 672.0,649.4 672.8,646.9 673.7,644.3 674.6,641.8 675.5,639.2 676.4,636.6 677.3,634.1 678.3,631.5 679.4,629.0 680.6,626.6 681.8,624.3 683.2,622.1 684.7,620.1 686.4,618.2 688.3,616.5 690.4,615.1 692.7,613.9 695.1,612.9 697.6,612.3 700.1,611.9"/>
<path d="M700.1,482.2 702.1,482.8 704.1,484.0 706.0,485.6 707.8,487.5 709.4,489.5 710.9,491.6 712.2,493.9 713.4,496.1 714.5,498.5 715.4,500.9 716.3,503.3 717.2,505.8 718.0,508.2 718.8,510.7 719.6,513.2 720.3,515.6 721.1,518.1 722.0,520.6 722.8,523.0 723.6,525.4 724.4,527.9 725.3,530.3 726.1,532.7 727.0,535.1 727.9,537.5 728.7,539.9 729.6,542.3 730.5,544.7 731.4,547.1 732.4,549.5 733.3,551.8 734.2,554.2 735.2,556.5 736.1,558.9 737.1,561.2 738.1,563.5 739.1,565.8 740.1,568.2 741.1,570.5 742.2,572.8 743.2,575.0 744.3,577.3 745.3,579.6 746.4,581.9 747.5,584.1 748.6,586.4 749.7,588.6 750.9,590.8 752.0,593.1 753.2,595.3 754.4,597.5 755.6,599.7 756.8,601.9 758.0,604.1 759.2,606.3 760.5,608.4 761.7,610.6 763.0,612.8 764.3,614.9 765.6,617.0 766.9,619.2 768.3,621.3 769.6,623.4 771.0,625.5 772.4,627.6 773.8,629.7 775.2,631.8 776.6,633.9 778.1,635.9 779.5,638.0 781.0,640.1 782.5,642.1 784.0,644.1 785.5,646.2 787.0,648.2 788.5,650.2 790.0,652.2 791.6,654.2 793.2,656.2 794.7,658.2 796.3,660.2 797.9,662.2 799.5,664.2 801.1,666.1 802.7,668.1 804.4,670.1 806.0,672.0 807.7,674.0 809.3,675.9 811.0,677.8 812.7,679.8 814.4,681.7 816.1,683.6 817.8,685.4 819.5,687.3 821.3,689.2 823.0,691.0 824.8,692.8 826.6,694.5 828.5,696.3 830.3,698.0 832.2,699.6 834.1,701.2 836.1,702.8 838.1,704.3 840.1,705.8 842.1,707.3 844.2,708.6 846.3,710.0 848.5,711.2 850.7,712.4 852.9,713.6 855.2,714.6 857.5,715.7 859.8,716.6 862.2,717.4 864.6,718.2 867.0,718.9 869.4,719.5 871.9,720.1 874.4,720.5 876.9,720.9 879.4,721.2 881.9,721.3 884.4,721.4L884.4,721.4 886.8,721.9 889.2,722.8 891.5,723.9 893.6,725.2 895.6,726.8 897.4,728.5 899.2,730.4 900.8,732.4 902.3,734.5 903.7,736.8 905.1,739.2 906.3,741.7 907.5,744.2 908.6,746.8 909.6,749.4 910.6,752.0 911.6,754.7 912.5,757.3 913.4,759.9 914.2,762.5 915.1,765.0 915.9,767.6 916.7,770.1 917.5,772.6 918.2,775.1 919.0,777.6 919.7,780.1 920.4,782.6 921.2,785.0 921.9,787.5 922.6,790.0 923.3,792.5 924.0,795.0 924.7,797.6 925.4,800.1 926.0,802.6 926.7,805.1 927.4,807.6 928.0,810.2 928.7,812.7 929.3,815.2 929.9,817.8 930.6,820.3 931.2,822.8 931.8,825.4 932.4,827.9 933.0,830.5 933.6,833.0 934.2,835.6 934.8,838.2 935.4,840.7 936.0,843.3 936.6,845.8 937.1,848.4 937.7,851.0 938.3,853.6 938.9,856.1 939.4,858.7 940.0,861.3 940.5,863.9 941.1,866.5 941.6,869.0 942.2,871.6 942.7,874.2 943.2,876.8 943.8,879.4 944.3,882.0 944.8,884.6 945.4,887.2 945.9,889.8 946.4,892.3 946.9,894.9 947.5,897.5 948.0,900.1 948.5,902.7 949.0,905.3 949.5,907.9 950.0,910.5 950.6,913.1 951.1,915.7 951.6,918.3 952.1,920.9 952.6,923.5 953.1,926.1 953.6,928.7 954.1,931.3 954.7,933.9 955.2,936.5 955.7,939.1 956.2,941.7 956.7,944.3 957.2,946.9 957.8,949.5 958.3,952.0 958.8,954.6 959.3,957.2 959.8,959.8 960.4,962.4 960.9,965.0 961.4,967.6 962.0,970.1 962.5,972.7 963.0,975.3 963.6,977.9 964.1,980.4 964.6,983.0 965.2,985.6 965.7,988.1 966.3,990.7 966.9,993.3 967.4,995.8 968.0,998.4 968.6,1000.9"/>
<path d="M884.4,721.4 886.8,721.9 889.2,722.7 891.5,723.8 893.7,725.1 895.8,726.6 897.7,728.2 899.5,730.0 901.2,732.0 902.7,734.1 904.2,736.3 905.6,738.6 907.0,741.0 908.2,743.4 909.4,745.9 910.5,748.5 911.6,751.1 912.6,753.7 913.6,756.3 914.6,758.8 915.5,761.4 916.4,763.9 917.3,766.4 918.1,768.9 919.0,771.4 919.8,773.9 920.6,776.4 921.4,778.8 922.2,781.3 922.9,783.8 923.7,786.2 924.4,788.7 925.2,791.2 925.9,793.7 926.6,796.2 927.3,798.7 928.0,801.2 928.7,803.7 929.4,806.2 930.1,808.7 930.8,811.2 931.4,813.7 932.1,816.2 932.8,818.7 933.4,821.3 934.0,823.8 934.7,826.3 935.3,828.9 935.9,831.4 936.5,834.0 937.2,836.5 937.8,839.1 938.4,841.6 938.9,844.2 939.5,846.7 940.1,849.3 940.7,851.8 941.3,854.4 941.9,857.0 942.4,859.5 943.0,862.1 943.5,864.7 944.1,867.2 944.7,869.8 945.2,872.4 945.8,875.0 946.3,877.5 946.9,880.1 947.4,882.7 947.9,885.3 948.5,887.8 949.0,890.4 949.5,893.0 950.1,895.6 950.6,898.2 951.2,900.8 951.7,903.3 952.2,905.9 952.7,908.5 953.3,911.1 953.8,913.7 954.3,916.3 954.9,918.9 955.4,921.4 956.0,924.0 956.5,926.6 957.0,929.2 957.6,931.8 958.1,934.4 958.6,936.9 959.2,939.5 959.7,942.1 960.3,944.7 960.8,947.2 961.4,949.8 962.0,952.4 962.5,955.0 963.1,957.5 963.7,960.1 964.2,962.7 964.8,965.2 965.4,967.8 966.0,970.3 966.6,972.9 967.2,975.5 967.8,978.0 968.4,980.6 969.0,983.1 969.6,985.7 970.2,988.2 970.8,990.7 971.5,993.3 972.1,995.8 972.8,998.3 973.4,1000.9"/>
<path d="M700.1,611.9 702.5,612.2 704.9,612.8 707.2,613.6 709.4,614.8 711.4,616.2 713.3,617.9 715.0,619.8 716.5,621.9 718.0,624.1 719.3,626.5 720.5,629.0 721.7,631.6 722.8,634.2 723.8,636.9 724.7,639.5 725.7,642.2 726.5,644.8 727.4,647.4 728.2,650.0 729.0,652.6 729.7,655.1 730.4,657.7 731.1,660.2 731.8,662.8 732.4,665.3 733.1,667.9 733.7,670.4 734.2,672.9 734.8,675.4 735.4,677.9 735.9,680.4 736.5,682.9 737.0,685.4 737.5,687.9 738.0,690.5 738.6,693.0 739.1,695.5 739.6,698.0 740.1,700.5 740.7,703.0 741.2,705.5 741.7,708.0 742.2,710.5 742.8,713.1 743.3,715.6 743.8,718.1 744.3,720.6 744.9,723.1 745.4,725.7 745.9,728.2 746.4,730.7 747.0,733.2 747.5,735.8 748.0,738.3 748.5,740.8 749.1,743.4 749.6,745.9 750.1,748.4 750.6,751.0 751.2,753.5 751.7,756.0 752.2,758.6 752.7,761.1 753.3,763.6 753.8,766.2 754.3,768.7 754.8,771.3 755.3,773.8 755.8,776.4 756.4,778.9 756.9,781.4 757.4,784.0 757.9,786.5 758.4,789.1 758.9,791.6 759.4,794.2 759.9,796.7 760.4,799.3 760.9,801.9 761.5,804.4 762.0,807.0 762.5,809.5 763.0,812.1 763.4,814.6 763.9,817.2 764.4,819.7 764.9,822.3 765.4,824.9 765.9,827.4 766.4,830.0 766.9,832.5 767.4,835.1 767.8,837.7 768.3,840.2 768.8,842.8 769.3,845.4 769.7,847.9 770.2,850.5 770.7,853.1 771.1,855.6 771.6,858.2 772.0,860.8 772.5,863.3 772.9,865.9 773.4,868.5 773.8,871.0 774.3,873.6 774.7,876.2 775.2,878.8 775.6,881.3 776.0,883.9 776.5,886.5 776.9,889.0 777.3,891.6 777.7,894.2 778.1,896.8 778.6,899.3 779.0,901.9 779.4,904.5 779.8,907.1 780.2,909.6 780.6,912.2 781.0,914.8 781.4,917.4 781.7,919.9 782.1,922.5 782.5,925.1 782.9,927.7 783.2,930.2 783.6,932.8 784.0,935.4 784.3,938.0 784.7,940.5 785.0,943.1 785.4,945.7 785.7,948.3 786.1,950.8 786.4,953.4 786.7,956.0 787.0,958.6 787.4,961.2 787.7,963.7 788.0,966.3 788.3,968.9 788.6,971.5 788.9,974.0 789.2,976.6 789.5,979.2 789.8,981.8 790.0,984.3 790.3,986.9 790.6,989.5 790.8,992.1 791.1,994.6 791.3,997.2 791.6,999.8"/>
<path d="M1145.4,1001.8 1146.1,999.3 1146.8,996.7 1147.5,994.2 1148.2,991.7 1148.9,989.1 1149.6,986.6 1150.3,984.1 1151.0,981.5 1151.7,979.0 1152.4,976.4 1153.1,973.9 1153.8,971.4 1154.6,968.8 1155.3,966.3 1156.0,963.7 1156.7,961.2 1157.3,958.6 1158.0,956.1 1158.7,953.5 1159.4,951.0 1160.1,948.4 1160.8,945.8 1161.5,943.3 1162.2,940.7 1162.9,938.2 1163.6,935.6 1164.3,933.0 1165.0,930.5 1165.7,927.9 1166.4,925.4 1167.1,922.8 1167.8,920.2 1168.4,917.7 1169.1,915.1 1169.8,912.5 1170.5,910.0 1171.2,907.4 1171.9,904.9 1172.6,902.3 1173.2,899.7 1173.9,897.2 1174.6,894.6 1175.3,892.0 1176.0,889.5 1176.7,886.9 1177.3,884.4 1178.0,881.8 1178.7,879.2 1179.4,876.7 1180.1,874.1 1180.7,871.6 1181.4,869.0 1182.1,866.5 1182.8,863.9 1183.4,861.4 1184.1,858.8 1184.8,856.3 1185.4,853.7 1186.1,851.2 1186.8,848.6 1187.5,846.1 1188.1,843.5 1188.8,841.0 1189.5,838.4 1190.1,835.9 1190.8,833.4 1191.5,830.8 1192.1,828.3 1192.8,825.7 1193.5,823.2 1194.1,820.7 1194.8,818.2 1195.5,815.6 1196.1,813.1 1196.8,810.6 1197.4,808.1 1198.1,805.6 1198.8,803.0 1199.4,800.5 1200.1,798.0 1200.8,795.5 1201.4,793.0 1202.1,790.5 1202.8,788.0 1203.6,785.4 1204.3,782.9 1205.0,780.4 1205.8,777.9 1206.6,775.3 1207.4,772.8 1208.2,770.3 1209.0,767.7 1209.9,765.2 1210.7,762.6 1211.7,760.1 1212.6,757.5 1213.6,754.9 1214.5,752.3 1215.6,749.7 1216.6,747.1 1217.7,744.6 1218.9,742.0 1220.1,739.5 1221.4,737.1 1222.9,734.8 1224.4,732.6 1226.0,730.5 1227.8,728.6 1229.7,726.9 1231.8,725.4 1234.0,724.1 1236.4,723.1 1238.9,722.4 1241.4,722.0L1241.4,722.0 1243.9,722.5 1246.3,723.3 1248.6,724.4 1250.8,725.7 1252.8,727.1 1254.7,728.8 1256.4,730.6 1258.0,732.6 1259.4,734.7 1260.8,736.9 1262.1,739.2 1263.2,741.6 1264.3,744.2 1265.3,746.7 1266.2,749.4 1267.1,752.1 1267.9,754.8 1268.7,757.5 1269.5,760.2 1270.3,762.9 1271.0,765.6 1271.8,768.3 1272.5,770.9 1273.3,773.5 1274.1,776.1 1274.8,778.6 1275.6,781.1 1276.4,783.6 1277.1,786.1 1277.9,788.6 1278.6,791.1 1279.4,793.6 1280.1,796.0 1280.9,798.5 1281.6,801.0 1282.3,803.5 1283.0,805.9 1283.7,808.4 1284.4,810.9 1285.1,813.4 1285.8,815.9 1286.5,818.4 1287.1,821.0 1287.8,823.5 1288.5,826.0 1289.1,828.5 1289.8,831.0 1290.4,833.6 1291.0,836.1 1291.6,838.6 1292.3,841.2 1292.9,843.7 1293.5,846.3 1294.1,848.8 1294.7,851.4 1295.3,853.9 1295.9,856.5 1296.5,859.0 1297.0,861.6 1297.6,864.2 1298.2,866.7 1298.7,869.3 1299.3,871.9 1299.9,874.5 1300.4,877.0 1301.0,879.6 1301.5,882.2 1302.1,884.8 1302.6,887.4 1303.1,889.9 1303.7,892.5 1304.2,895.1 1304.7,897.7 1305.2,900.3 1305.8,902.9 1306.3,905.5 1306.8,908.1 1307.3,910.6 1307.8,913.2 1308.3,915.8 1308.8,918.4 1309.4,921.0 1309.9,923.6 1310.4,926.2 1310.9,928.8 1311.4,931.4 1311.9,934.0 1312.4,936.6 1312.9,939.2 1313.4,941.8 1313.8,944.4 1314.3,947.0 1314.8,949.5 1315.3,952.1 1315.8,954.7 1316.3,957.3 1316.8,959.9 1317.3,962.5 1317.8,965.1 1318.3,967.7 1318.8,970.2 1319.3,972.8 1319.8,975.4 1320.3,978.0 1320.8,980.6 1321.3,983.1 1321.8,985.7 1322.3,988.3 1322.8,990.8 1323.3,993.4 1323.8,996.0 1324.3,998.5 1324.8,1001.1"/>
<path d="M1153.8,1002.0 1154.3,999.4 1154.9,996.9 1155.5,994.3 1156.1,991.7 1156.7,989.2 1157.2,986.6 1157.8,984.1 1158.4,981.5 1159.0,978.9 1159.6,976.4 1160.2,973.8 1160.8,971.2 1161.5,968.7 1162.1,966.1 1162.7,963.6 1163.3,961.0 1163.9,958.4 1164.6,955.9 1165.2,953.3 1165.8,950.7 1166.4,948.2 1167.1,945.6 1167.7,943.1 1168.3,940.5 1169.0,937.9 1169.6,935.4 1170.2,932.8 1170.9,930.2 1171.5,927.7 1172.1,925.1 1172.8,922.6 1173.4,920.0 1174.0,917.4 1174.7,914.9 1175.3,912.3 1176.0,909.8 1176.6,907.2 1177.2,904.6 1177.9,902.1 1178.5,899.5 1179.1,897.0 1179.8,894.4 1180.4,891.8 1181.0,889.3 1181.6,886.7 1182.3,884.2 1182.9,881.6 1183.5,879.1 1184.1,876.5 1184.7,873.9 1185.4,871.4 1186.0,868.8 1186.6,866.3 1187.2,863.7 1187.8,861.2 1188.4,858.6 1189.0,856.1 1189.6,853.5 1190.2,851.0 1190.8,848.4 1191.4,845.9 1191.9,843.3 1192.5,840.8 1193.1,838.2 1193.7,835.7 1194.2,833.1 1194.8,830.6 1195.3,828.1 1195.9,825.5 1196.5,823.0 1197.1,820.4 1197.6,817.9 1198.2,815.4 1198.8,812.8 1199.4,810.3 1200.0,807.8 1200.6,805.2 1201.2,802.7 1201.9,800.2 1202.5,797.6 1203.2,795.1 1203.9,792.6 1204.6,790.1 1205.3,787.5 1206.0,785.0 1206.8,782.5 1207.6,780.0 1208.4,777.5 1209.2,775.0 1210.1,772.5 1210.9,770.0 1211.8,767.5 1212.8,765.0 1213.7,762.5 1214.7,760.0 1215.7,757.5 1216.8,755.0 1217.9,752.5 1219.0,750.0 1220.1,747.5 1221.3,745.0 1222.6,742.5 1223.8,740.1 1225.2,737.6 1226.5,735.1 1227.9,732.7 1229.4,730.3 1231.0,728.1 1232.8,726.1 1234.7,724.4 1236.9,723.1 1239.1,722.3 1241.4,722.0L1241.4,722.0 1243.9,722.5 1246.4,723.2 1248.8,724.3 1251.1,725.5 1253.3,726.9 1255.3,728.5 1257.1,730.3 1258.9,732.2 1260.5,734.2 1262.0,736.4 1263.3,738.6 1264.6,741.0 1265.8,743.4 1267.0,745.9 1268.0,748.5 1269.0,751.1 1270.0,753.8 1270.9,756.4 1271.7,759.1 1272.6,761.8 1273.4,764.5 1274.2,767.1 1275.0,769.8 1275.9,772.4 1276.7,774.9 1277.5,777.5 1278.3,780.0 1279.1,782.5 1279.9,785.0 1280.7,787.5 1281.5,790.0 1282.3,792.5 1283.0,795.0 1283.8,797.5 1284.5,800.0 1285.3,802.5 1286.0,805.0 1286.8,807.5 1287.5,810.0 1288.2,812.5 1288.9,815.0 1289.6,817.5 1290.3,820.1 1291.0,822.6 1291.7,825.1 1292.3,827.7 1293.0,830.2 1293.7,832.8 1294.3,835.3 1295.0,837.9 1295.6,840.4 1296.2,843.0 1296.9,845.5 1297.5,848.1 1298.1,850.7 1298.7,853.2 1299.3,855.8 1299.9,858.4 1300.5,860.9 1301.1,863.5 1301.7,866.1 1302.3,868.7 1302.9,871.3 1303.5,873.9 1304.0,876.4 1304.6,879.0 1305.2,881.6 1305.7,884.2 1306.3,886.8 1306.8,889.4 1307.4,892.0 1308.0,894.6 1308.5,897.2 1309.0,899.8 1309.6,902.4 1310.1,905.0 1310.7,907.6 1311.2,910.2 1311.7,912.8 1312.3,915.4 1312.8,918.0 1313.3,920.6 1313.8,923.2 1314.4,925.9 1314.9,928.5 1315.4,931.1 1315.9,933.7 1316.5,936.3 1317.0,938.9 1317.5,941.5 1318.0,944.1 1318.6,946.7 1319.1,949.3 1319.6,951.9 1320.1,954.5 1320.7,957.1 1321.2,959.7 1321.7,962.3 1322.2,964.9 1322.8,967.5 1323.3,970.1 1323.8,972.7 1324.4,975.3 1324.9,977.9 1325.4,980.4 1326.0,983.0 1326.5,985.6 1327.0,988.2 1327.6,990.8 1328.1,993.3 1328.7,995.9 1329.2,998.5 1329.8,1001.1"/>
<path d="M1398.4,1000.3 1399.7,997.6 1401.0,994.9 1402.2,992.1 1403.3,989.4 1404.4,986.6 1405.5,983.8 1406.6,981.0 1407.6,978.2 1408.7,975.4 1409.8,972.6 1410.9,969.8 1412.1,967.0 1413.2,964.3 1414.5,961.5 1415.8,958.7 1417.2,955.9 1418.7,953.2 1420.3,950.5 1421.9,947.7 1423.7,945.1 1425.6,942.6 1427.6,940.2 1429.7,938.0 1431.9,935.9 1434.3,934.2 1436.7,932.7 1439.2,931.5 1441.8,930.7 1444.5,930.2 1447.3,930.0"/>
<path d="M1405.4,1000.5 1406.6,997.8 1407.7,995.0 1408.8,992.1 1409.8,989.3 1410.8,986.5 1411.8,983.7 1412.8,980.8 1413.8,978.0 1414.7,975.2 1415.7,972.3 1416.8,969.5 1417.9,966.7 1419.0,963.9 1420.2,961.1 1421.4,958.3 1422.8,955.5 1424.2,952.8 1425.8,950.0 1427.4,947.3 1429.2,944.6 1431.1,941.9 1433.2,939.3 1435.3,936.9 1437.6,934.7 1439.9,932.9 1442.3,931.5 1444.8,930.6 1447.3,930.2"/>
</g>
<line x1="291.7" y1="35" x2="291.7" y2="49" stroke="#000" stroke-width="3"/>
<line x1="291.7" y1="977" x2="291.7" y2="991" stroke="#000" stroke-width="3"/>
<line x1="398.4" y1="35" x2="398.4" y2="49" stroke="#000" stroke-width="3"/>
<line x1="398.4" y1="977" x2="398.4" y2="991" stroke="#000" stroke-width="3"/>
<line x1="473.6" y1="35" x2="473.6" y2="49" stroke="#000" stroke-width="3"/>
<line x1="473.6" y1="977" x2="473.6" y2="991" stroke="#000" stroke-width="3"/>
<line x1="700.1" y1="35" x2="700.1" y2="49" stroke="#000" stroke-width="3"/>
<line x1="700.1" y1="977" x2="700.1" y2="991" stroke="#000" stroke-width="3"/>
<line x1="884.4" y1="35" x2="884.4" y2="49" stroke="#000" stroke-width="3"/>
<line x1="884.4" y1="977" x2="884.4" y2="991" stroke="#000" stroke-width="3"/>
<line x1="1015.4" y1="35" x2="1015.4" y2="49" stroke="#000" stroke-width="3"/>
<line x1="1015.4" y1="977" x2="1015.4" y2="991" stroke="#000" stroke-width="3"/>
<line x1="1090.5" y1="35" x2="1090.5" y2="49" stroke="#000" stroke-width="3"/>
<line x1="1090.5" y1="977" x2="1090.5" y2="991" stroke="#000" stroke-width="3"/>
<line x1="1241.4" y1="35" x2="1241.4" y2="49" stroke="#000" stroke-width="3"/>
<line x1="1241.4" y1="977" x2="1241.4" y2="991" stroke="#000" stroke-width="3"/>
<line x1="1371.8" y1="35" x2="1371.8" y2="49" stroke="#000" stroke-width="3"/>
<line x1="1371.8" y1="977" x2="1371.8" y2="991" stroke="#000" stroke-width="3"/>
<line x1="78" y1="35.5" x2="92" y2="35.5" stroke="#000" stroke-width="3"/>
<line x1="1433" y1="35.5" x2="1447" y2="35.5" stroke="#000" stroke-width="3"/>
<line x1="78" y1="172.1" x2="92" y2="172.1" stroke="#000" stroke-width="3"/>
<line x1="1433" y1="172.1" x2="1447" y2="172.1" stroke="#000" stroke-width="3"/>
<line x1="78" y1="308.6" x2="92" y2="308.6" stroke="#000" stroke-width="3"/>
<line x1="1433" y1="308.6" x2="1447" y2="308.6" stroke="#000" stroke-width="3"/>
<line x1="78" y1="445.2" x2="92" y2="445.2" stroke="#000" stroke-width="3"/>
<line x1="1433" y1="445.2" x2="1447" y2="445.2" stroke="#000" stroke-width="3"/>
<line x1="78" y1="581.8" x2="92" y2="581.8" stroke="#000" stroke-width="3"/>
<line x1="1433" y1="581.8" x2="1447" y2="581.8" stroke="#000" stroke-width="3"/>
<line x1="78" y1="718.3" x2="92" y2="718.3" stroke="#000" stroke-width="3"/>
<line x1="1433" y1="718.3" x2="1447" y2="718.3" stroke="#000" stroke-width="3"/>
<line x1="78" y1="854.9" x2="92" y2="854.9" stroke="#000" stroke-width="3"/>
<line x1="1433" y1="854.9" x2="1447" y2="854.9" stroke="#000" stroke-width="3"/>
<line x1="78" y1="991.5" x2="92" y2="991.5" stroke="#000" stroke-width="3"/>
<line x1="1433" y1="991.5" x2="1447" y2="991.5" stroke="#000" stroke-width="3"/>
<line x1="78.8" y1="309" x2="1446" y2="309" stroke="#f00" stroke-width="2" stroke-dasharray="9.5 3"/>
<rect x="78.5" y="35.5" width="1368.8" height="955.5" fill="none" stroke="#000" stroke-width="3"/>
<text transform="translate(61.5,46.7) scale(1,1.13)" text-anchor="end">2</text>
<text transform="translate(61.5,183.3) scale(1,1.13)" text-anchor="end">1</text>
<text transform="translate(61.5,319.8) scale(1,1.13)" text-anchor="end">0</text>
<text transform="translate(61.5,456.4) scale(1,1.13)" text-anchor="end">-1</text>
<text transform="translate(61.5,593.0) scale(1,1.13)" text-anchor="end">-2</text>
<text transform="translate(61.5,729.5) scale(1,1.13)" text-anchor="end">-3</text>
<text transform="translate(61.5,866.1) scale(1,1.13)" text-anchor="end">-4</text>
<text transform="translate(61.5,1002.7) scale(1,1.13)" text-anchor="end">-5</text>
<text transform="translate(78.5,1032) scale(1,1.13)" text-anchor="middle">Gamma</text>
<text transform="translate(291.7,1032) scale(1,1.13)" text-anchor="middle">X</text>
<text transform="translate(398.4,1032) scale(1,1.13)" text-anchor="middle">W</text>
<text transform="translate(473.6,1032) scale(1,1.13)" text-anchor="middle">K</text>
<text transform="translate(700.1,1032) scale(1,1.13)" text-anchor="middle">Gamma</text>
<text transform="translate(884.4,1032) scale(1,1.13)" text-anchor="middle">L</text>
<text transform="translate(1015.4,1032) scale(1,1.13)" text-anchor="middle">U</text>
<text transform="translate(1090.5,1032) scale(1,1.13)" text-anchor="middle">W</text>
<text transform="translate(1241.4,1032) scale(1,1.13)" text-anchor="middle">L</text>
<text transform="translate(1357.0,1032) scale(1,1.13)" text-anchor="middle">K</text>
<text transform="translate(1392.5,1032) scale(1,1.13)" text-anchor="middle">U</text>
<text transform="translate(1447.3,1032) scale(1,1.13)" text-anchor="middle">X</text>
</svg>
</body></html>
